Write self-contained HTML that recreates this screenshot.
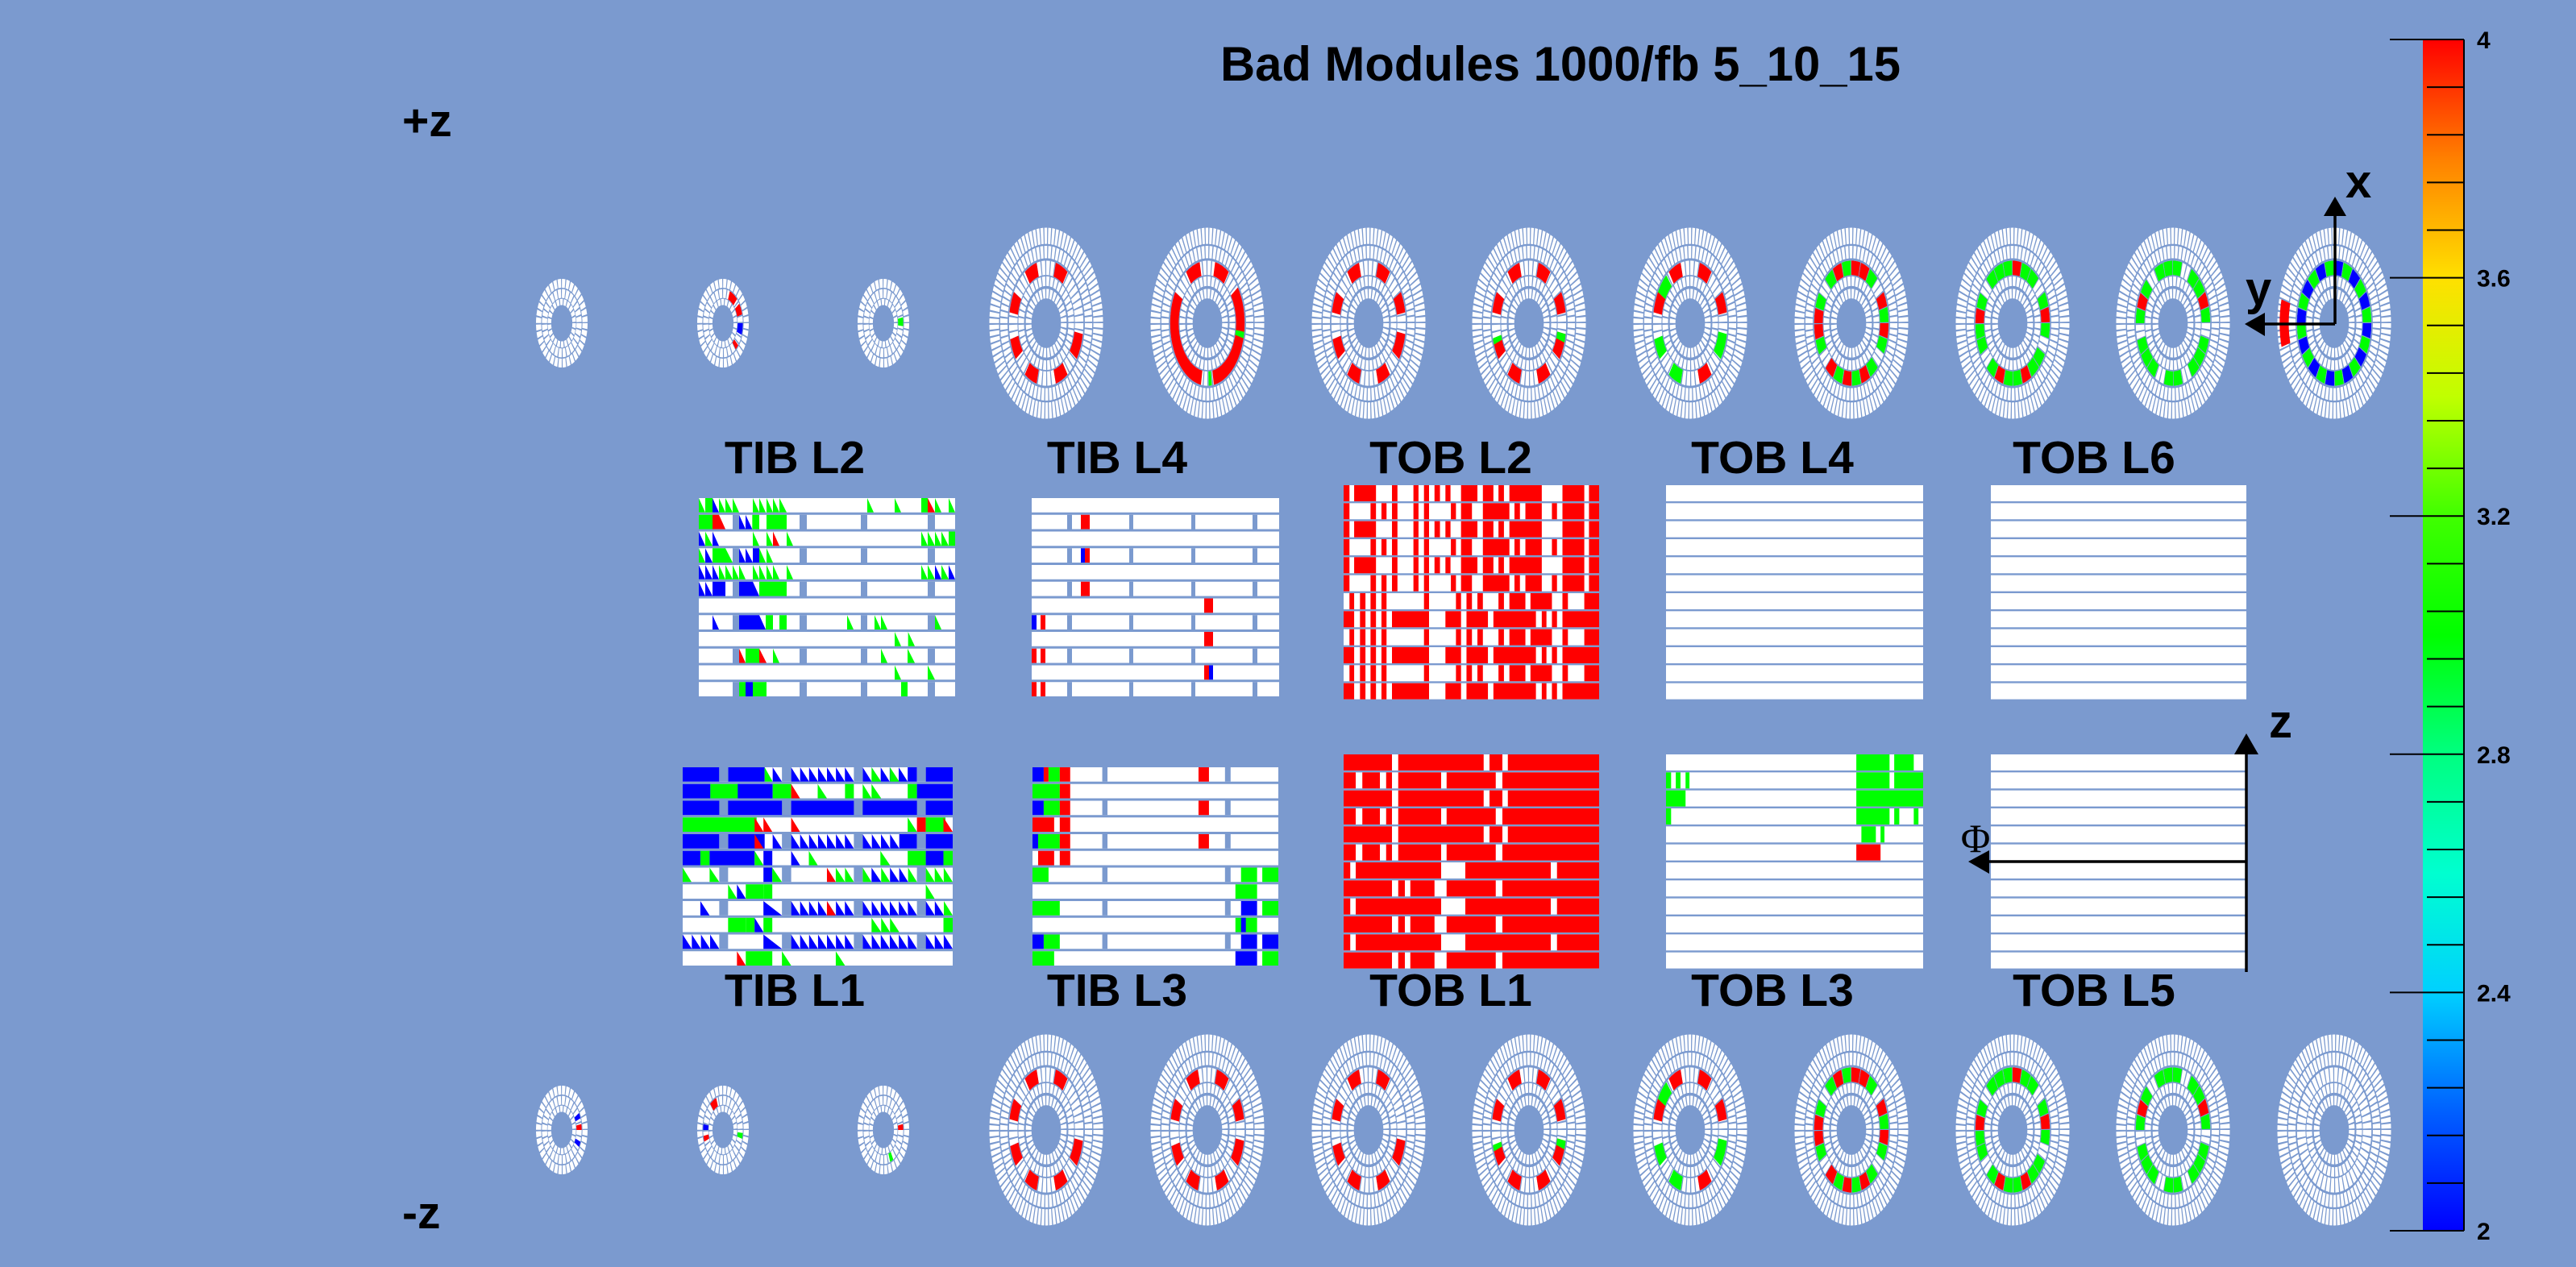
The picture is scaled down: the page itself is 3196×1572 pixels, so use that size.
<!DOCTYPE html>
<html><head><meta charset="utf-8">
<style>
html,body{margin:0;padding:0;background:#7b9acf;}
svg{display:block;}
text{font-family:"Liberation Sans",sans-serif;font-weight:bold;fill:#000;}
</style></head>
<body>
<svg id="s" xmlns="http://www.w3.org/2000/svg" width="3196" height="1572" viewBox="0 0 3196 1572">
<defs>
<linearGradient id="cb" x1="0" y1="1" x2="0" y2="0">
<stop offset="0" stop-color="#0000ff"/>
<stop offset="0.1" stop-color="#0060ff"/>
<stop offset="0.2" stop-color="#00d0ff"/>
<stop offset="0.3" stop-color="#00ffd0"/>
<stop offset="0.4" stop-color="#00ff80"/>
<stop offset="0.5" stop-color="#00ff00"/>
<stop offset="0.6" stop-color="#40ff00"/>
<stop offset="0.7" stop-color="#c0ff00"/>
<stop offset="0.8" stop-color="#ffe000"/>
<stop offset="0.9" stop-color="#ff8000"/>
<stop offset="1" stop-color="#ff0000"/>
</linearGradient>
</defs>
<rect width="3196" height="1572" fill="#7b9acf"/>
<text x="1936" y="100" font-size="60" text-anchor="middle" textLength="844" lengthAdjust="spacingAndGlyphs">Bad Modules 1000/fb 5_10_15</text>
<text x="499" y="169" font-size="57">+z</text>
<text x="499" y="1524" font-size="57">-z</text>

<text x="986" y="587" font-size="57" text-anchor="middle">TIB L2</text>
<text x="1386" y="587" font-size="57" text-anchor="middle">TIB L4</text>
<text x="1800" y="587" font-size="57" text-anchor="middle">TOB L2</text>
<text x="2199" y="587" font-size="57" text-anchor="middle">TOB L4</text>
<text x="2598" y="587" font-size="57" text-anchor="middle">TOB L6</text>
<text x="986" y="1248" font-size="57" text-anchor="middle">TIB L1</text>
<text x="1386" y="1248" font-size="57" text-anchor="middle">TIB L3</text>
<text x="1800" y="1248" font-size="57" text-anchor="middle">TOB L1</text>
<text x="2199" y="1248" font-size="57" text-anchor="middle">TOB L3</text>
<text x="2598" y="1248" font-size="57" text-anchor="middle">TOB L5</text>

<g id="plots"></g>
<g id="discs"></g>

<line x1="2897" y1="402" x2="2897" y2="266" stroke="#000" stroke-width="3.5"/>
<polygon points="2883,268 2911,268 2897,244" fill="#000"/>
<line x1="2897" y1="402" x2="2808" y2="402" stroke="#000" stroke-width="3.5"/>
<polygon points="2810,388 2810,417 2785,402" fill="#000"/>
<text x="2910" y="245" font-size="58">x</text>
<text x="2786" y="378" font-size="58">y</text>

<line x1="2787" y1="1206" x2="2787" y2="933" stroke="#000" stroke-width="3.5"/>
<polygon points="2772,936 2802,936 2787,910" fill="#000"/>
<line x1="2787" y1="1069" x2="2466" y2="1069" stroke="#000" stroke-width="3.5"/>
<polygon points="2468,1055 2468,1084 2442,1069" fill="#000"/>
<text x="2815" y="915" font-size="58">z</text>
<text x="2451" y="1057" font-size="50" text-anchor="middle" style="font-family:'Liberation Serif',serif;font-weight:normal">Φ</text>

<rect x="3006" y="49" width="51" height="1478" fill="url(#cb)"/>
<line x1="3057" y1="49" x2="3057" y2="1527" stroke="#000" stroke-width="2"/>
<g id="ticks"></g>
</svg>
<script>
(function(){
var NS='http://www.w3.org/2000/svg', BG='#7b9acf';
var C={r:'#ff0000',g:'#00ff00',b:'#0000ff'};
function el(t,a,p){var e=document.createElementNS(NS,t);for(var k in a)e.setAttribute(k,a[k]);p.appendChild(e);return e;}
var plots=document.getElementById('plots'), discs=document.getElementById('discs'), ticks=document.getElementById('ticks');

var labels=['4','3.6','3.2','2.8','2.4','2'];
for(var i=0;i<=25;i++){
  var y=49+i*1478/25;
  var major=(i%5==0);
  el('line',{x1:major?2965:3011,y1:y,x2:3057,y2:y,stroke:'#000','stroke-width':2},ticks);
  if(major){var t=el('text',{x:3073,y:y+11,'font-size':30},ticks);t.textContent=labels[i/5];}
}

function plot(X0,Y0,X1,Y1,zx0,zx1,tob,gapPar,gaps,rows){
  var sx=function(x){return X0+(x-zx0)/(zx1-zx0)*(X1-X0);};
  var rh=(Y1-Y0)/12, h=tob?rh-2.4:rh-3;
  for(var i=0;i<12;i++){
    var y=Y0+i*rh;
    el('rect',{x:X0,y:y,width:X1-X0,height:h,fill:'#fff'},plots);
    var items=(rows[i]||'').split(';');
    items.forEach(function(s){
      s=s.trim(); if(!s)return;
      var p=s.split(/\s+/), ty=p[0], col=C[p[1]], a=+p[2], b=+p[3];
      if(ty=='r'){el('rect',{x:sx(a),y:y,width:sx(b)-sx(a),height:h,fill:col},plots);}
      else if(ty=='t'){el('polygon',{points:sx(a)+','+y+' '+sx(a)+','+(y+h)+' '+sx(b)+','+(y+h),fill:col},plots);}
      else if(ty=='T'){var n=+p[4],w=(b-a)/n;for(var k=0;k<n;k++){var aa=a+k*w,bb=aa+w;
        el('polygon',{points:sx(aa)+','+y+' '+sx(aa)+','+(y+h)+' '+sx(bb)+','+(y+h),fill:col},plots);}}
    });
    if(!tob && (i%2)==gapPar){
      gaps.forEach(function(g){el('rect',{x:sx(g[0]),y:y,width:sx(g[1])-sx(g[0]),height:h,fill:BG},plots);});
    }
  }
}

plot(867,618,1185,867,81,1035,false,1,[[207,231],[456,483],[684,708],[933,960]],[
 't g 81 105;r g 105 132;t b 132 156;t g 156 180;t g 180 207;t g 207 231;t g 282 306;t g 306 330;t g 333 357;t g 357 381;t g 381 408;t g 708 732;t g 810 834;r g 909 933;t r 933 960;t g 960 984;t g 1011 1035',
 'r g 81 132;r r 132 156;t r 156 180;t b 231 255;t b 255 280;r g 280 306;r g 333 381;r g 381 408',
 't b 81 105;t g 105 132;t b 132 156;t g 282 306;t g 333 357;t r 357 381;t g 408 432;t g 909 933;t g 933 960;t g 960 984;t g 984 1011;r g 1011 1035',
 't g 81 105;t b 105 132;r g 132 180;t g 180 207;t b 231 255;t b 255 282;r b 282 306;t g 306 330;t g 333 357',
 't b 81 105;t b 105 132;t b 132 156;t g 156 180;t g 180 207;t g 207 231;t g 231 255;t g 282 306;t g 306 330;t g 333 357;t g 357 381;t g 408 432;t g 909 933;t g 933 960;t b 960 984;t g 984 1011;t b 1011 1035',
 't b 81 105;t b 105 132;r b 132 180;r b 231 282;t b 282 306;r g 306 357;r g 357 408',
 '',
 't b 132 156;r b 231 306;t b 306 330;r g 330 357;r g 381 408;t g 633 657;t g 735 759;t g 759 783;t g 960 984',
 't g 810 834;t g 860 885',
 't r 231 255;r g 255 306;t r 306 333;t g 357 381;t g 759 783;t g 858 885',
 't g 810 834;t g 933 960',
 'r g 231 255;r b 255 282;r g 282 333;r g 834 858'
]);

plot(1280,618,1587,867,30,951,false,1,[[162,180],[393,408],[624,639],[852,870]],[
 '','r r 213 246','','r b 213 228;r r 228 246','','r r 213 246','r r 672 705',
 'r b 30 48;r r 63 81','r r 672 705','r r 30 48;r r 63 81','r r 672 690;r b 690 705','r r 30 48;r r 63 81'
]);

plot(847,952,1182,1201,36,708,false,0,[[127,149],[283,306],[462,484],[619,641]],[
 'r b 36 127;r b 149 240;t g 240 260;t b 260 283;T b 306 462 7;T b 484 596 5;t g 506 530;t g 552 575;r b 596 619;r b 641 708',
 'r b 36 105;r g 105 175;r b 173 260;t g 105 127;r g 260 306;t r 306 328;t g 372 395;r g 440 462;t g 484 506;t g 506 530;r g 596 619;r b 619 708',
 'r b 36 708',
 'r g 36 220;t r 215 237;t r 237 259;t r 306 328;t g 596 619;r r 619 641;r g 641 690;t r 685 708',
 'r b 36 127;r b 149 240;t r 215 237;t b 260 283;T b 306 462 7;T b 484 575 4;r b 575 619;r b 641 708',
 'r b 36 80;r g 80 103;r b 103 215;t g 215 237;r b 237 259;t b 306 328;t g 350 372;t g 528 552;r g 596 641;r b 641 685;r g 685 708',
 't g 36 58;t g 103 127;r b 237 259;t g 259 283;t r 395 417;t g 417 440;t g 440 462;t g 484 506;t b 506 530;t g 530 552;t b 552 575;t b 575 597;t g 597 619;T g 641 708 3',
 't g 149 171;t b 171 193;r g 193 237;r g 237 259;t g 641 663',
 't b 80 103;t b 237 283;T b 306 462 7;t r 395 417;T b 484 619 6;T b 641 686 2;t g 686 708',
 'r g 149 193;r g 193 215;t b 215 237;r g 237 259;t g 506 530;t g 530 552;t g 552 575;r g 685 708',
 'T b 36 127 4;t b 237 283;T b 306 462 7;T b 484 619 6;T b 641 708 3',
 't r 171 193;r g 193 259;t g 283 306;t g 417 440'
]);

plot(1281,952,1586,1201,907,1520,false,0,[[1081,1094],[1387,1401]],[
 'r b 907 935;r r 935 947;r g 947 975;r r 975 1001;r r 1321 1347',
 'r g 907 975;r r 975 1001',
 'r b 907 935;r g 935 975;r r 975 1001;r r 1321 1347',
 'r r 907 961;r r 975 1001',
 'r b 907 921;r g 921 975;r r 975 1001;r r 1321 1347',
 'r r 921 961;r r 975 1001',
 'r g 907 947;r g 1427 1467;r g 1480 1520',
 'r g 1413 1467',
 'r g 907 975;r b 1427 1467;r g 1480 1520',
 'r g 1413 1467;r b 1427 1439',
 'r b 907 935;r g 935 975;r b 1427 1467;r b 1480 1520',
 'r g 907 961;r b 1413 1467;r g 1480 1520'
]);

function rl(list){return list.map(function(p){return 'r r '+p[0]+' '+p[1];}).join(';');}
var A=rl([[35,50],[62,118],[159,173],[214,227],[241,254],[268,282],[296,309],[336,378],[392,419],[432,446],[460,543],[596,652],[664,690]]);
var B=rl([[35,50],[104,118],[132,145],[159,173],[214,227],[241,254],[310,323],[336,364],[392,460],[473,487],[501,543],[569,582],[596,652],[664,690]]);
var Cc=rl([[50,62],[77,91],[104,118],[132,145],[241,254],[323,336],[350,364],[378,392],[432,446],[460,501],[514,569],[596,610],[652,690]]);
var D=rl([[35,62],[77,91],[104,118],[132,145],[159,254],[296,336],[350,405],[419,528],[543,555],[569,582],[596,690]]);
plot(1667,602,1984,870,35,690,true,0,[],[A,B,A,B,A,B,Cc,D,Cc,D,Cc,D]);
var E=rl([[35,159],[175,394],[409,442],[456,690]]);
var F=rl([[35,66],[83,128],[144,159],[175,285],[299,425],[442,690]]);
var G=rl([[35,52],[66,285],[347,566],[582,690]]);
var H=rl([[35,159],[175,192],[206,268],[299,425],[442,690]]);
plot(1667,936,1984,1204,35,690,true,0,[],[E,F,E,F,E,F,G,H,G,H,G,H]);
plot(2067,602,2386,870,0,1,true,0,[],[]);
plot(2470,602,2787,870,0,1,true,0,[],[]);
plot(2470,936,2787,1204,0,1,true,0,[],[]);
plot(2067,936,2386,1204,860,1518,true,0,[],[
 'r g 1347 1432;r g 1444 1494',
 'r g 860 873;r g 885 897;r g 910 920;r g 1347 1432;r g 1444 1518',
 'r g 860 910;r g 1347 1518',
 'r g 860 873;r g 1347 1432;r g 1444 1457;r g 1494 1506',
 'r g 1360 1397;r g 1409 1419',
 'r r 1347 1409'
]);

var LB=[[0.915,0.17,90],[0.745,0.13,70],[0.58,0.15,48],[0.44,0.1,40],[0.31,0.1,32]];
var SB=[[0.9,0.2,36],[0.67,0.2,28],[0.48,0.14,22]];
function pt(r,a){a=a*Math.PI/180;return (r*Math.sin(a)).toFixed(4)+' '+(-r*Math.cos(a)).toFixed(4);}
function disc(cx,cy,rx,ry,small,arcs){
  var g=el('g',{transform:'translate('+cx+','+cy+') scale('+rx+','+ry+')'},discs);
  var bands=small?SB:LB;
  bands.forEach(function(b){
    var circ=2*Math.PI*b[0], seg=circ/b[2], gap=small?0.035:0.018;
    el('circle',{cx:0,cy:0,r:b[0],fill:'none',stroke:'#fff','stroke-width':b[1],'stroke-dasharray':(seg-gap)+' '+gap},g);
  });
  var cb=small?SB[1]:LB[2];
  (arcs||[]).forEach(function(a){
    var r=a[3]||cb[0], w=a[4]||cb[1];
    var large=(a[1]-a[0])>180?1:0;
    el('path',{d:'M'+pt(r,a[0])+' A'+r+' '+r+' 0 '+large+' 1 '+pt(r,a[1]),fill:'none',stroke:C[a[2]],'stroke-width':w},g);
  });
}
function R(list,c){return list.map(function(p){return [p[0],p[1],c];});}
var P1=R([[-35,-15],[15,35],[100,125],[145,165],[195,215],[235,255],[280,300]],'r');
var P3=P1.concat(R([[60,80]],'r'));
var P2=R([[-35,-12],[12,35],[55,170],[190,300]],'r').concat(R([[98,104],[173,178]],'g'));
var P4=P3.concat(R([[100,108],[250,256]],'g'));
var P5=R([[-35,-15],[15,35],[60,80],[280,300],[145,165]],'r').concat(R([[100,125],[235,255],[195,215],[-60,-40]],'g'));
function mix(seq){var out=[],a=-180;seq.forEach(function(c,i){if(c!='w')out.push([a,a+14,c]);a+=15;});return out;}
var P6=mix('rgrwgrrgwgrgrrgwrgrgwgrg'.split(''));
var P7=mix('grgwggrgwgggrggwgrgwggrg'.split(''));
var P8=mix('gwgggwgrgwgggwggrgwgggwg'.split(''));
var P9=mix('bgbgbgbgbgbgbgbgbgbgbgbg'.split('')).concat([[255,285,'r',0.88,0.16]]);

var LX=[1298,1498,1698,1897,2097,2297,2497,2696,2896];
var top=[P1,P2,P3,P4,P5,P6,P7,P8,P9];
var bot=[P1,P3,P1,P4,P5,P6,P7,P8,[]];
LX.forEach(function(x,i){disc(x,401,70.5,118.5,false,top[i]);disc(x,1402,70.5,118.5,false,bot[i]);});
var SX=[697,897,1096];
disc(SX[0],401,32,55,true,[]);
disc(SX[1],401,32,55,true,[[20,45,'r'],[55,75,'r'],[90,110,'b'],[130,140,'r']]);
disc(SX[2],401,32,55,true,[[80,95,'g']]);
disc(SX[0],1402,32,55,true,[[60,70,'b'],[80,90,'r'],[110,120,'b']]);
disc(SX[1],1402,32,55,true,[[-40,-20,'r'],[250,260,'r'],[270,280,'b'],[95,105,'g']]);
disc(SX[2],1402,32,55,true,[[80,90,'r'],[150,160,'g']]);
})();
</script>
</body></html>
